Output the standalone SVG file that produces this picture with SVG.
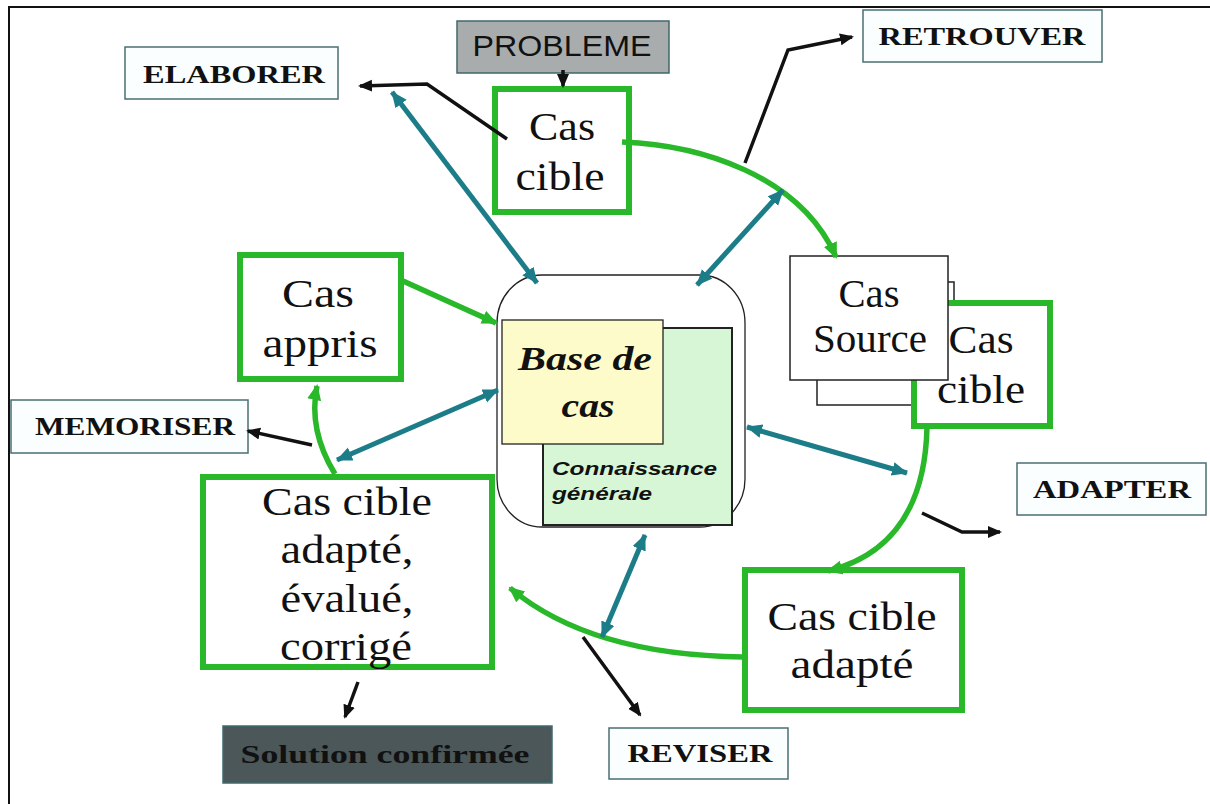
<svg xmlns="http://www.w3.org/2000/svg" width="1210" height="804" viewBox="0 0 1210 804">
<style>
.lbl{fill:#fbfefe;stroke:#4a6f72;stroke-width:1.5}
.lt{font-family:"Liberation Serif",serif;font-weight:bold;font-size:26px;fill:#111;text-anchor:middle}
.gb{fill:#fff;stroke:#29b829;stroke-width:6}
.wb{fill:#fff;stroke:#222;stroke-width:1.5}
.ct{font-family:"Liberation Serif",serif;font-size:40px;fill:#111;text-anchor:middle}
.teal{stroke:#1c7d89;stroke-width:5;fill:none;marker-start:url(#mt);marker-end:url(#mt)}
.grn{stroke:#29b829;stroke-width:5.5;fill:none;marker-end:url(#mg)}
.blk{stroke:#111;stroke-width:3.5;fill:none;marker-end:url(#mb)}
</style>
<defs>
<marker id="mt" markerUnits="userSpaceOnUse" markerWidth="18" markerHeight="16" refX="15" refY="7" orient="auto-start-reverse"><path d="M0,0 L16,7 L0,14 z" fill="#1c7d89"/></marker>
<marker id="mg" markerUnits="userSpaceOnUse" markerWidth="18" markerHeight="16" refX="14" refY="7" orient="auto"><path d="M0,0 L16,7 L0,14 z" fill="#29b829"/></marker>
<marker id="mb" markerUnits="userSpaceOnUse" markerWidth="16" markerHeight="14" refX="12" refY="6" orient="auto"><path d="M0,0 L14,6 L0,12 z" fill="#111"/></marker>
</defs>
<rect width="1210" height="804" fill="#fff"/>
<path d="M9,804 V7 H1210" fill="none" stroke="#111" stroke-width="2"/>

<g id="base">
<rect x="497" y="275" width="248" height="252" rx="45" ry="48" fill="#fff" stroke="#222" stroke-width="1.3"/>
<rect x="543" y="328" width="189" height="197" fill="#d6f6d6" stroke="#222" stroke-width="2"/>
<rect x="502" y="320" width="161" height="124" fill="#fdfbca" stroke="#222" stroke-width="1.3"/>
<text x="585" y="370" font-family="Liberation Serif,serif" font-weight="bold" font-style="italic" font-size="33" text-anchor="middle" textLength="134" lengthAdjust="spacingAndGlyphs" fill="#111">Base de</text>
<text x="588" y="417" font-family="Liberation Serif,serif" font-weight="bold" font-style="italic" font-size="33" text-anchor="middle" textLength="53" lengthAdjust="spacingAndGlyphs" fill="#111">cas</text>
<text x="552" y="475" font-family="Liberation Sans,sans-serif" font-weight="bold" font-style="italic" font-size="18" textLength="165" lengthAdjust="spacingAndGlyphs" fill="#111">Connaissance</text>
<text x="552" y="500" font-family="Liberation Sans,sans-serif" font-weight="bold" font-style="italic" font-size="18" textLength="100" lengthAdjust="spacingAndGlyphs" fill="#111">générale</text>
</g>

<g id="probleme">
<rect x="457" y="21" width="212" height="52" fill="#a9acad" stroke="#41676a" stroke-width="1.5"/>
<text x="562" y="56" font-family="Liberation Sans,sans-serif" font-size="29" text-anchor="middle" textLength="179" lengthAdjust="spacingAndGlyphs" fill="#111">PROBLEME</text>
</g>

<g id="cas-cible-top">
<rect x="495" y="89" width="134" height="123" class="gb"/>
<text x="562" y="140" class="ct" textLength="66" lengthAdjust="spacingAndGlyphs">Cas</text>
<text x="560" y="190" class="ct" textLength="89" lengthAdjust="spacingAndGlyphs">cible</text>
</g>

<g id="elaborer">
<rect x="125" y="47" width="213" height="52" class="lbl"/>
<text x="234" y="83" class="lt" textLength="182" lengthAdjust="spacingAndGlyphs">ELABORER</text>
</g>

<g id="retrouver">
<rect x="863" y="10" width="239" height="52" class="lbl"/>
<text x="982" y="45" class="lt" textLength="207" lengthAdjust="spacingAndGlyphs">RETROUVER</text>
</g>

<g id="memoriser">
<rect x="11" y="400" width="237" height="53" class="lbl"/>
<text x="135" y="435" class="lt" textLength="200" lengthAdjust="spacingAndGlyphs">MEMORISER</text>
</g>

<g id="adapter">
<rect x="1017" y="463" width="189" height="52" class="lbl"/>
<text x="1112" y="498" class="lt" textLength="158" lengthAdjust="spacingAndGlyphs">ADAPTER</text>
</g>

<g id="reviser">
<rect x="609" y="728" width="179" height="51" class="lbl"/>
<text x="700" y="762" class="lt" textLength="145" lengthAdjust="spacingAndGlyphs">REVISER</text>
</g>

<g id="solution">
<rect x="223" y="726" width="329" height="57" fill="#4b5759" stroke="#3f6a6e" stroke-width="1.5"/>
<text x="385" y="763" class="lt" textLength="289" lengthAdjust="spacingAndGlyphs">Solution confirmée</text>
</g>

<g id="cas-appris">
<rect x="240" y="255" width="161" height="124" class="gb"/>
<text x="318" y="307" class="ct" textLength="72" lengthAdjust="spacingAndGlyphs">Cas</text>
<text x="320" y="357" class="ct" textLength="115" lengthAdjust="spacingAndGlyphs">appris</text>
</g>

<g id="cas-cible-corrige">
<rect x="203" y="477" width="289" height="190" class="gb"/>
<text x="347" y="515" class="ct" textLength="170" lengthAdjust="spacingAndGlyphs">Cas cible</text>
<text x="347" y="563" class="ct" textLength="133" lengthAdjust="spacingAndGlyphs">adapté,</text>
<text x="347" y="612" class="ct" textLength="133" lengthAdjust="spacingAndGlyphs">évalué,</text>
<text x="346" y="660" class="ct" textLength="132" lengthAdjust="spacingAndGlyphs">corrigé</text>
</g>

<g id="cas-source">
<rect x="817" y="282" width="137" height="123" class="wb"/>
<rect x="914" y="303" width="136" height="123" class="gb"/>
<rect x="790" y="256" width="158" height="124" class="wb"/>
<text x="869" y="307" class="ct" textLength="61" lengthAdjust="spacingAndGlyphs">Cas</text>
<text x="870" y="352" class="ct" textLength="114" lengthAdjust="spacingAndGlyphs">Source</text>
<text x="981" y="353" class="ct" textLength="65" lengthAdjust="spacingAndGlyphs">Cas</text>
<text x="981" y="403" class="ct" textLength="88" lengthAdjust="spacingAndGlyphs">cible</text>
</g>

<g id="cas-cible-adapte">
<rect x="745" y="570" width="217" height="140" class="gb"/>
<text x="852" y="630" class="ct" textLength="169" lengthAdjust="spacingAndGlyphs">Cas cible</text>
<text x="852" y="678" class="ct" textLength="123" lengthAdjust="spacingAndGlyphs">adapté</text>
</g>

<g id="connectors">
<path class="grn" d="M622,142 C700,145 800,175 836,257"/>
<path class="grn" d="M403,281 L496,323"/>
<path class="grn" d="M335,474 Q308,430 317,386"/>
<path class="grn" d="M927,427 C925,520 880,558 828,571"/>
<path class="grn" d="M743,657 Q590,655 510,588"/>
<path class="teal" d="M392,92 L537,283"/>
<path class="teal" d="M697,285 L783,190"/>
<path class="teal" d="M337,460 L498,390"/>
<path class="teal" d="M747,427 L907,473"/>
<path class="teal" d="M645,535 L602,637"/>
<path class="blk" d="M507,139 L427,84 L360,86"/>
<path class="blk" d="M563,70 L563,86"/>
<path class="blk" d="M745,163 L788,50 L852,37"/>
<path class="blk" d="M312,445 L248,431"/>
<path class="blk" d="M922,513 L962,532 L1000,532"/>
<path class="blk" d="M583,637 L640,715"/>
<path class="blk" d="M358,682 L345,717"/>
</g>
</svg>
